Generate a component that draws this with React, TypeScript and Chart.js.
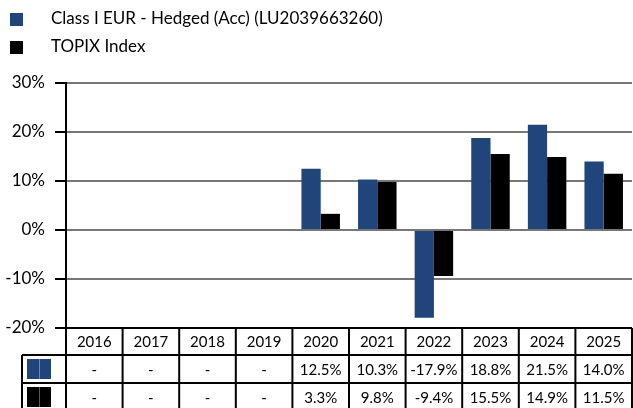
import React, { useEffect, useRef } from "react";
import { Chart, registerables } from "chart.js";

Chart.register(...registerables);

const years = ["2016", "2017", "2018", "2019", "2020", "2021", "2022", "2023", "2024", "2025"];
const fundName = "Class I EUR - Hedged (Acc) (LU2039663260)";
const indexName = "TOPIX Index";
const fundValues: (number | null)[] = [null, null, null, null, 12.5, 10.3, -17.9, 18.8, 21.5, 14.0];
const indexValues: (number | null)[] = [null, null, null, null, 3.3, 9.8, -9.4, 15.5, 14.9, 11.5];
const fundLabels = ["-", "-", "-", "-", "12.5%", "10.3%", "-17.9%", "18.8%", "21.5%", "14.0%"];
const indexLabels = ["-", "-", "-", "-", "3.3%", "9.8%", "-9.4%", "15.5%", "14.9%", "11.5%"];
const yMin = -20;
const yMax = 30;
const yStep = 10;

const fundColor = "#1F457A";
const indexColor = "#000000";
const FONT = "Lato, 'Open Sans', sans-serif";

const tablePlugin = {
  id: "tableAndLegend",
  afterDraw(chart: any) {
    const ctx: CanvasRenderingContext2D = chart.ctx;
    const { left, right, bottom } = chart.chartArea;
    const xs = chart.scales.x;
    const n = years.length;
    const colW = (right - left) / n;
    const headerH = 27;
    const rowH = 28;
    const legendLeft = 22;

    ctx.save();
    // legend
    const legendItems = [
      { name: fundName, color: fundColor, y: 19 },
      { name: indexName, color: indexColor, y: 47 },
    ];
    ctx.font = `17px ${FONT}`;
    ctx.textBaseline = "middle";
    ctx.textAlign = "left";
    for (const it of legendItems) {
      ctx.fillStyle = it.color;
      ctx.fillRect(10, it.y - 6, 13, 13);
      ctx.fillStyle = "#000";
      ctx.fillText(it.name, 51, it.y);
    }

    // table text
    ctx.font = `15px ${FONT}`;
    ctx.textAlign = "center";
    ctx.fillStyle = "#000";
    const rows = [years, fundLabels, indexLabels];
    const rowTops = [bottom, bottom + headerH, bottom + headerH + rowH];
    const rowHs = [headerH, rowH, rowH];
    rows.forEach((row, r) => {
      row.forEach((txt, i) => {
        const cx = xs.getPixelForValue(i);
        ctx.fillText(txt, cx, rowTops[r] + rowHs[r] / 2 + 1);
      });
    });

    // legend squares in table
    const sq = [fundColor, indexColor];
    sq.forEach((c, k) => {
      const top = rowTops[k + 1];
      ctx.fillStyle = c;
      ctx.fillRect(legendLeft + 5, top + 4, 24, rowH - 8);
      ctx.fillStyle = "rgba(255,255,255,0.35)";
      ctx.fillRect(legendLeft + 17, top + 4, 1, rowH - 8);
    });

    // table lines
    ctx.strokeStyle = "#000";
    ctx.lineWidth = 2;
    ctx.beginPath();
    ctx.moveTo(left, bottom);
    ctx.lineTo(right, bottom);
    ctx.moveTo(legendLeft, rowTops[1]);
    ctx.lineTo(right, rowTops[1]);
    ctx.moveTo(legendLeft, rowTops[2]);
    ctx.lineTo(right, rowTops[2]);
    ctx.moveTo(legendLeft, rowTops[2] + rowH);
    ctx.lineTo(right, rowTops[2] + rowH);
    for (let i = 0; i <= n; i++) {
      const x = i < n ? xs.getPixelForValue(i) - colW / 2 : xs.getPixelForValue(n - 1) + colW / 2;
      ctx.moveTo(x, bottom);
      ctx.lineTo(x, rowTops[2] + rowH);
    }
    ctx.moveTo(legendLeft, rowTops[1]);
    ctx.lineTo(legendLeft, rowTops[2] + rowH);
    ctx.stroke();
    ctx.restore();
  },
};

export default function App() {
  const ref = useRef<HTMLCanvasElement>(null);
  useEffect(() => {
    document.body.style.margin = "0";
    if (!ref.current) return;
    const chart = new Chart(ref.current, {
      type: "bar",
      data: {
        labels: years,
        datasets: [
          { label: fundName, data: fundValues, backgroundColor: fundColor, borderWidth: 0 },
          { label: indexName, data: indexValues, backgroundColor: indexColor, borderWidth: 0 },
        ],
      },
      options: {
        responsive: false,
        animation: false,
        layout: { padding: { top: 83, bottom: 80, left: 0, right: 1 } },
        datasets: { bar: { categoryPercentage: 0.68, barPercentage: 1 } },
        plugins: { legend: { display: false }, tooltip: { enabled: false } },
        scales: {
          x: { display: false },
          y: {
            min: yMin,
            max: yMax,
            afterFit: (s: any) => {
              s.width = 66;
            },
            ticks: {
              stepSize: yStep,
              color: "#000",
              font: { family: FONT, size: 17 },
              padding: 10,
              callback: (v: any) => `${v}%`,
            },
            grid: {
              color: "#777777",
              lineWidth: 2,
              tickColor: "#000",
              tickLength: 11,
              tickWidth: 2,
            },
            border: { display: true, color: "#000", width: 2 },
          },
        },
      },
      plugins: [tablePlugin],
    });
    return () => chart.destroy();
  }, []);
  return (
    <div style={{ width: 633, height: 408 }}>
      <canvas ref={ref} width={633} height={408} style={{ display: "block" }} />
    </div>
  );
}
